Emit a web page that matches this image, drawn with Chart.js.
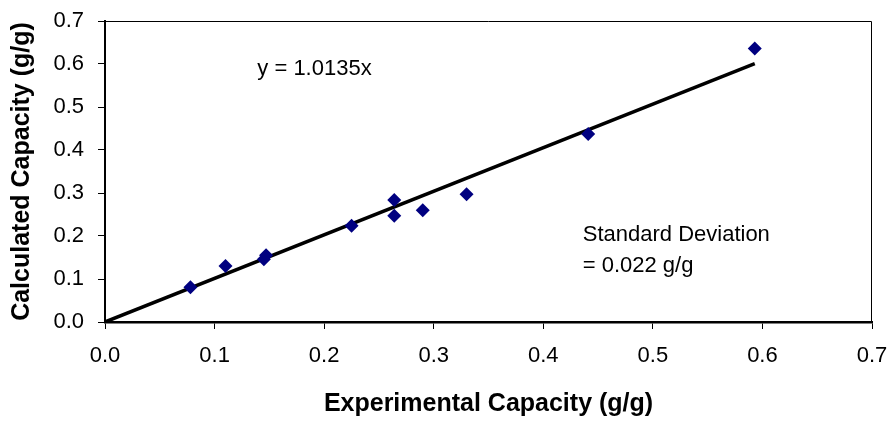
<!DOCTYPE html>
<html>
<head>
<meta charset="utf-8">
<script src="https://cdn.jsdelivr.net/npm/chart.js@4"></script>
<style>
  html, body { margin: 0; padding: 0; background: #fff; }
  #wrap { width: 890px; height: 422px; }
</style>
</head>
<body>
<div id="wrap"><canvas id="capacityChart" width="890" height="422"></canvas></div>
<script>
// experimental vs calculated capacity (g/g)
const experimental = [0.078, 0.110, 0.145, 0.147, 0.225, 0.264, 0.264, 0.290, 0.330, 0.441, 0.593];
const calculated   = [0.081, 0.130, 0.146, 0.155, 0.224, 0.284, 0.247, 0.260, 0.297, 0.437, 0.636];
const slope = 1.0135;
const fitRange = [0, 0.593];
const axisTicks = [0, 0.1, 0.2, 0.3, 0.4, 0.5, 0.6, 0.7];

const FONT = "'Liberation Sans', Arial, sans-serif";

const points = experimental.map((x, i) => ({ x: x, y: calculated[i] }));
const fitLine = fitRange.map(x => ({ x: x, y: slope * x }));

// frame + text notes
const notesPlugin = {
    id: "notes",
    afterDraw(chart) {
        const ctx = chart.ctx;
        const a = chart.chartArea;
        const xs = chart.scales.x, ys = chart.scales.y;
        ctx.save();
        ctx.strokeStyle = "#000";
        ctx.lineWidth = 1;
        ctx.beginPath();
        ctx.moveTo(a.left, a.top + 0.5);
        ctx.lineTo(a.right - 0.5, a.top + 0.5);
        ctx.lineTo(a.right - 0.5, a.bottom);
        ctx.stroke();

        ctx.fillStyle = "#000";
        ctx.font = "22px " + FONT;
        ctx.textBaseline = "alphabetic";
        ctx.textAlign = "left";
        ctx.fillText("y = " + slope + "x", xs.getPixelForValue(0.139), ys.getPixelForValue(0.574));
        ctx.fillText("Standard Deviation", xs.getPixelForValue(0.436), ys.getPixelForValue(0.188));
        ctx.fillText("= 0.022 g/g", xs.getPixelForValue(0.436), ys.getPixelForValue(0.116));
        ctx.restore();
    }
};

new Chart(document.getElementById("capacityChart"), {
    type: "scatter",
    data: {
        datasets: [
            {
                label: "Fit",
                type: "line",
                data: fitLine,
                borderColor: "#000",
                borderWidth: 3.5,
                pointRadius: 0,
                fill: false,
                order: 2
            },
            {
                label: "Data",
                data: points,
                pointStyle: "rectRot",
                pointRadius: 7,
                backgroundColor: "#000080",
                borderColor: "#000080",
                borderWidth: 0,
                order: 1
            }
        ]
    },
    plugins: [notesPlugin],
    options: {
        responsive: false,
        animation: false,
        layout: { padding: { top: 21, right: 18, left: 0, bottom: 0 } },
        plugins: {
            legend: { display: false },
            tooltip: { enabled: false }
        },
        scales: {
            x: {
                type: "linear",
                min: 0,
                max: 0.7,
                afterBuildTicks: s => { s.ticks = axisTicks.map(v => ({ value: v })); },
                afterFit: s => {
                    s.height = 100;
                    s.paddingLeft = 0;
                    s.paddingRight = 0;
                },
                grid: { drawOnChartArea: false, color: "#000", tickLength: 7, lineWidth: 1 },
                border: { color: "#000", width: 2.5 },
                ticks: {
                    color: "#000",
                    padding: 14,
                    font: { family: FONT, size: 22 },
                    callback: v => v.toFixed(1)
                },
                title: {
                    display: true,
                    text: "Experimental Capacity (g/g)",
                    color: "#000",
                    padding: { top: 3, bottom: 3 },
                    font: { family: FONT, size: 25, weight: "bold" }
                }
            },
            y: {
                type: "linear",
                min: 0,
                max: 0.7,
                afterBuildTicks: s => { s.ticks = axisTicks.map(v => ({ value: v })); },
                afterFit: s => {
                    s.width = 105;
                    s.paddingTop = 0;
                    s.paddingBottom = 0;
                },
                grid: { drawOnChartArea: false, color: "#000", tickLength: 7, lineWidth: 1 },
                border: { color: "#000", width: 2 },
                ticks: {
                    color: "#000",
                    padding: 14,
                    font: { family: FONT, size: 22 },
                    callback: v => v.toFixed(1)
                },
                title: {
                    display: true,
                    text: "Calculated Capacity (g/g)",
                    color: "#000",
                    padding: { top: 7, bottom: 7 },
                    font: { family: FONT, size: 25, weight: "bold" }
                }
            }
        }
    }
});
</script>
</body>
</html>
